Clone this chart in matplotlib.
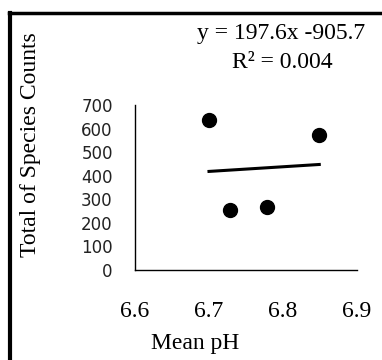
import matplotlib
matplotlib.use("Agg")
import matplotlib.pyplot as plt
from matplotlib.lines import Line2D
import numpy as np

# data
mean_ph = [6.70, 6.728, 6.778, 6.849]
species_counts = [636, 254, 267, 572]
slope = 197.6
intercept = -905.7
r_squared = 0.004
x_ticks = [6.6, 6.7, 6.8, 6.9]
y_ticks = [0, 100, 200, 300, 400, 500, 600, 700]

serif = ["Liberation Serif", "DejaVu Serif"]

fig = plt.figure(figsize=(3.82, 3.6), dpi=100)
ax = fig.add_axes([135 / 382, 1 - 270 / 360, 222 / 382, 165 / 360])

ax.scatter(mean_ph, species_counts, s=100, color="black", zorder=3)

xs = np.array([min(mean_ph), max(mean_ph)])
ax.plot(xs, slope * xs + intercept, color="black", lw=2.2)

ax.set_xlim(6.6, 6.9)
ax.set_ylim(0, 700)
ax.set_xticks(x_ticks)
ax.set_xticklabels(["%.1f" % v for v in x_ticks], family=serif, fontsize=17)
ax.set_yticks(y_ticks)
ax.set_yticklabels([str(v) for v in y_ticks], family="DejaVu Sans", fontsize=12, color="#222222")
ax.tick_params(axis="x", length=0, pad=22)
ax.tick_params(axis="y", length=0, pad=16)
for side in ["top", "right"]:
    ax.spines[side].set_visible(False)
for side in ["left", "bottom"]:
    ax.spines[side].set_linewidth(1.0)

fig.text(195 / 382, 1 - 343 / 360, "Mean pH", family=serif, fontsize=17,
         ha="center", va="center")
fig.text(31 / 382, 1 - 145 / 360, "Total of Species Counts", family=serif, fontsize=17,
         rotation=90, ha="center", va="center")

fig.text(281 / 382, 1 - 34 / 360, "y = %.1fx -%.1f" % (slope, -intercept),
         family=serif, fontsize=17, ha="center", va="center")
fig.text(282 / 382, 1 - 62 / 360, "R\u00b2 = %.3f" % r_squared,
         family=serif, fontsize=17, ha="center", va="center")

# outer frame (only top and left edges show)
fig.add_artist(Line2D([9 / 382, 1.0], [1 - 13 / 360, 1 - 13 / 360], color="black", lw=2.5))
fig.add_artist(Line2D([10 / 382, 10 / 382], [0.0, 1 - 13 / 360], color="black", lw=3))

fig.savefig("out.png", dpi=100)
